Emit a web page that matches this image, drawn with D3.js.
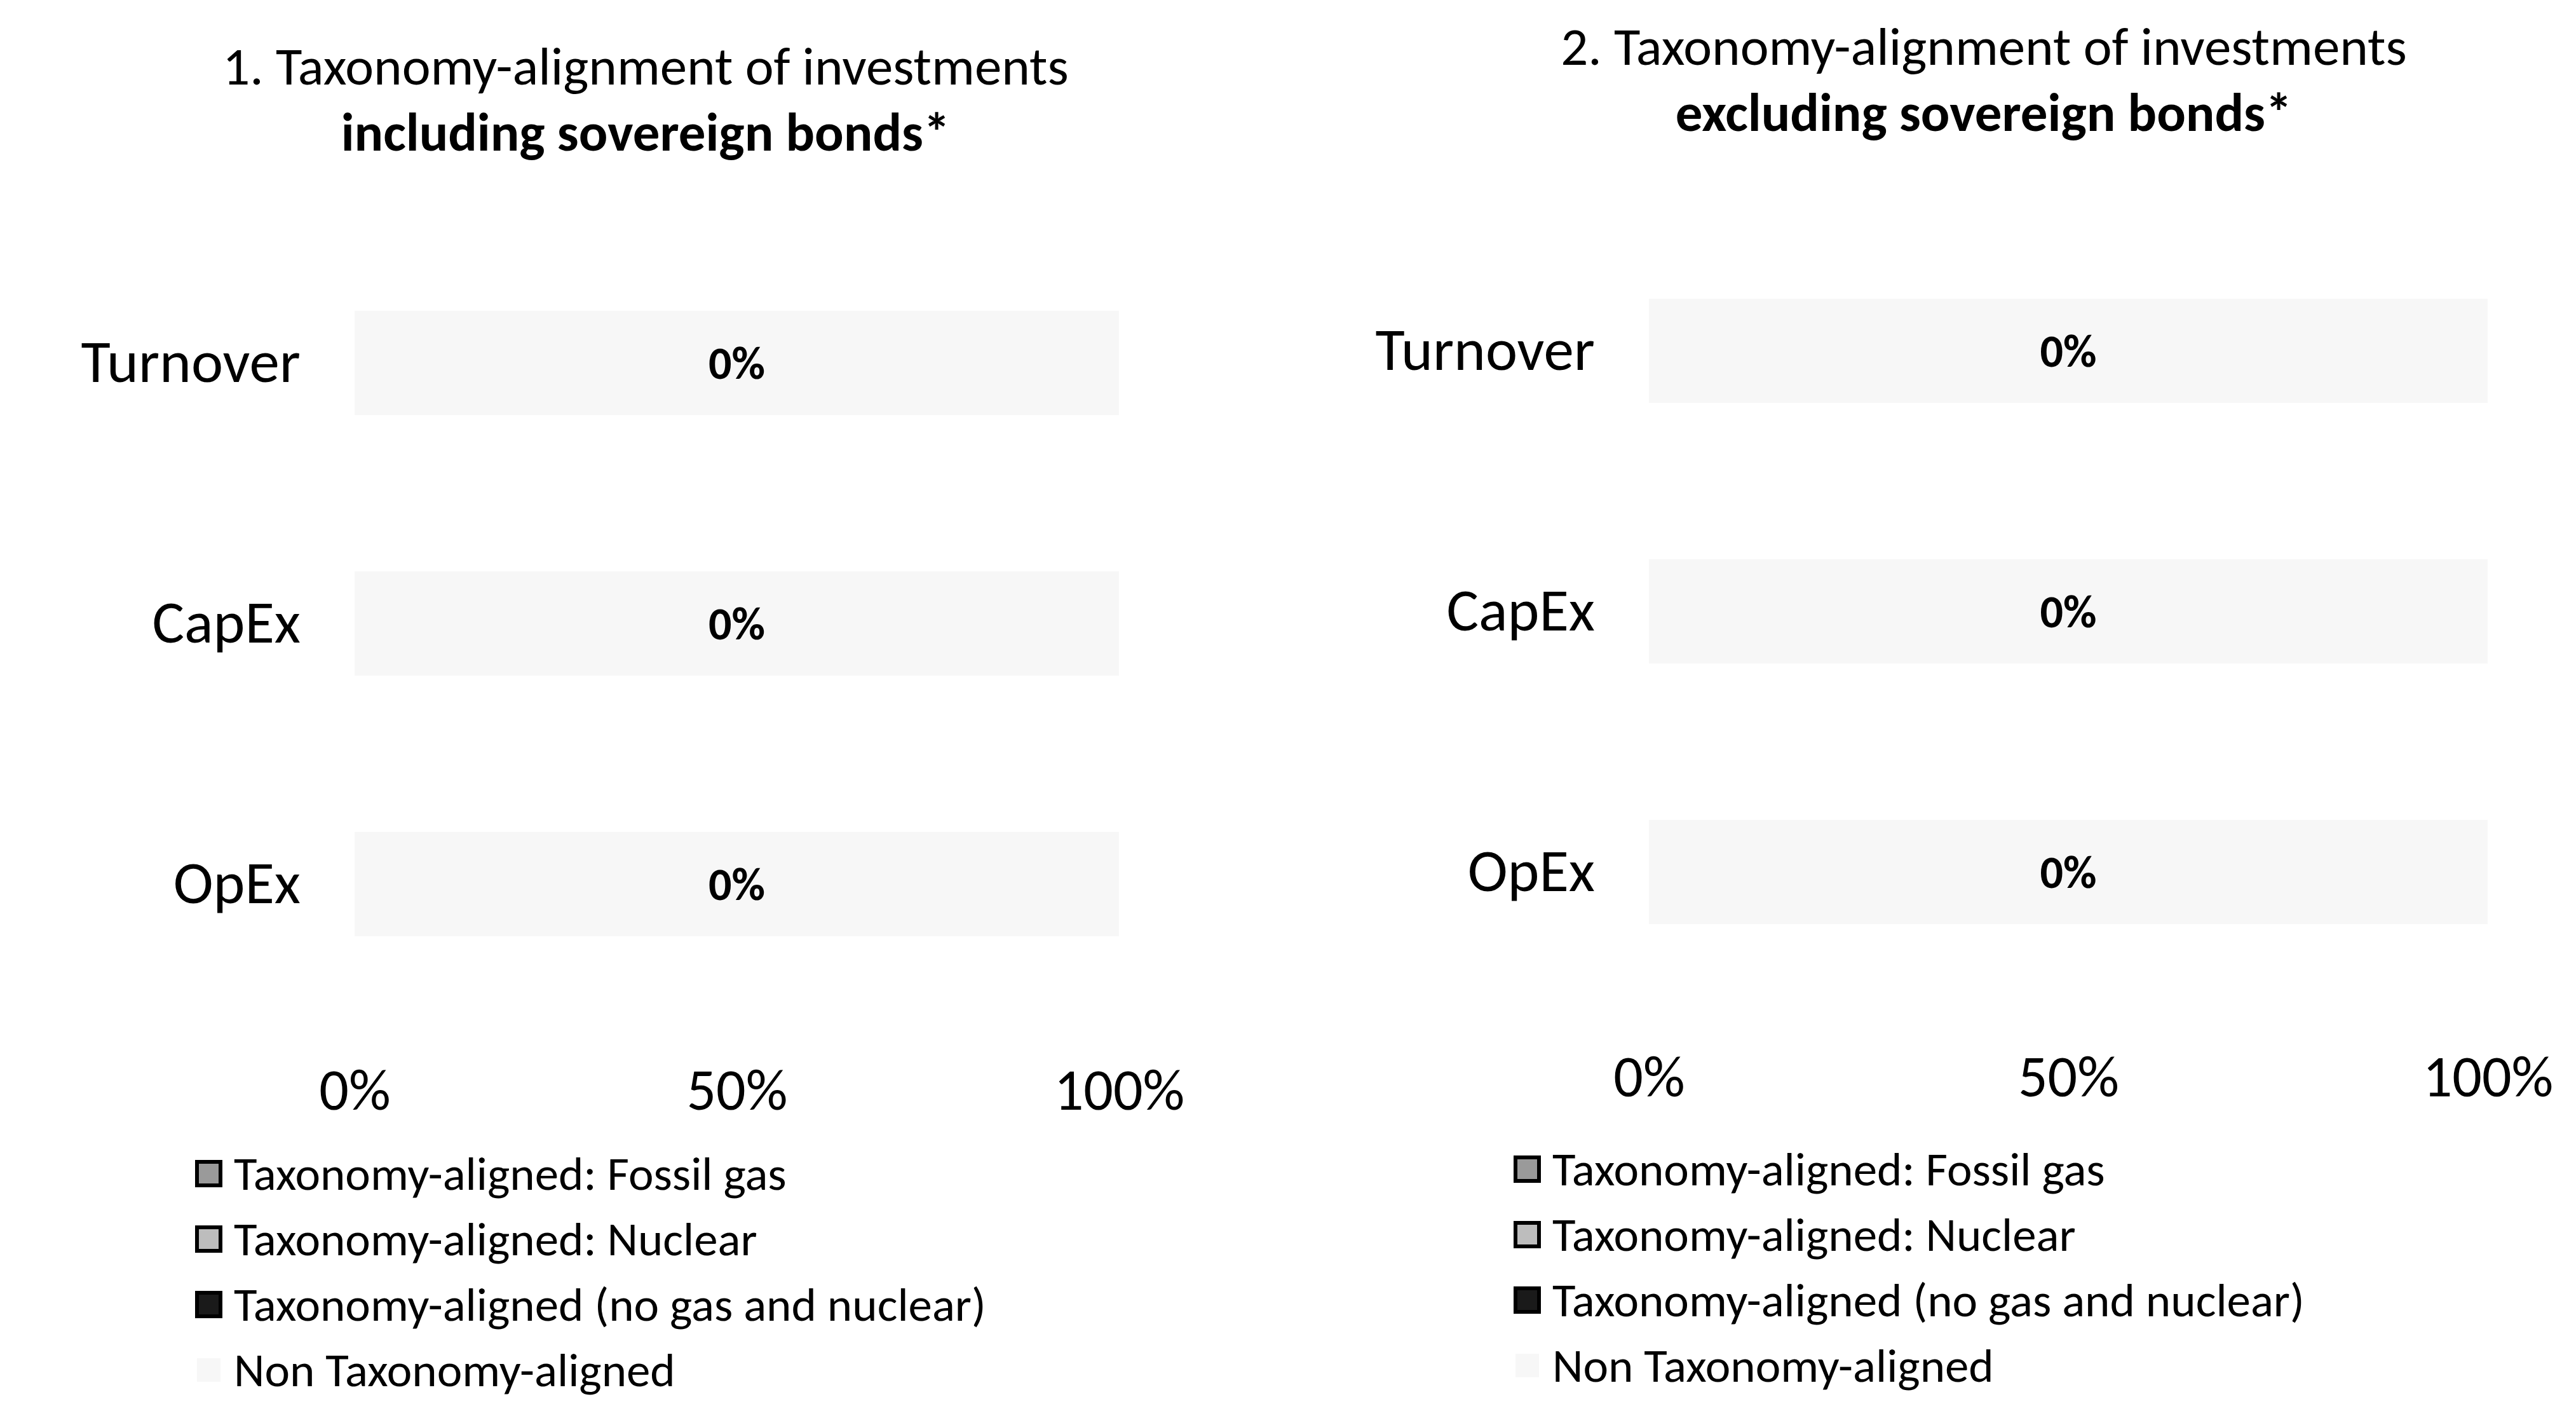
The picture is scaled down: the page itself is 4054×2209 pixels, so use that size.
<!DOCTYPE html>
<html>
<head>
<meta charset="utf-8">
<script src="https://cdn.jsdelivr.net/npm/d3@7"></script>
<style>
  body { margin: 0; background: #fff; }
  svg { display: block; font-family: Carlito, Calibri, Lato, sans-serif; }
  .title { font-size: 85px; text-anchor: middle; }
  .title.bold { font-weight: bold; }
  .cat text { font-size: 95px; fill: #000; }
  .ticks text { font-size: 92px; fill: #000; }
  .legend text { font-size: 75px; }
  .value { font-size: 72px; font-weight: bold; text-anchor: middle; }
</style>
</head>
<body>
<svg id="chart"></svg>
<script>
const WIDTH = 4054;
const HEIGHT = 2209;

const categories = ["Turnover", "CapEx", "OpEx"];
const seriesNames = [
  "Taxonomy-aligned: Fossil gas",
  "Taxonomy-aligned: Nuclear",
  "Taxonomy-aligned (no gas and nuclear)",
  "Non Taxonomy-aligned",
];
const tickValues = [0, 50, 100];

// 1. including sovereign bonds
const fossilGasIncl = [0, 0, 0];
const nuclearIncl = [0, 0, 0];
const alignedIncl = [0, 0, 0];
const nonAlignedIncl = [100, 100, 100];

// 2. excluding sovereign bonds
const fossilGasExcl = [0, 0, 0];
const nuclearExcl = [0, 0, 0];
const alignedExcl = [0, 0, 0];
const nonAlignedExcl = [100, 100, 100];

const colors = ["#9a9a9a", "#bdbdbd", "#1a1a1a", "#f7f7f7"];

const panels = [
  {
    title: ["1. Taxonomy-alignment of investments", "including sovereign bonds*"],
    titleX: 1016, titleY: 103,
    series: [fossilGasIncl, nuclearIncl, alignedIncl, nonAlignedIncl],
    x0: 558, x1: 1761, y0: 366, y1: 1596, axisY: 1714,
    legendX: 310, legendY: 1846,
  },
  {
    title: ["2. Taxonomy-alignment of investments", "excluding sovereign bonds*"],
    titleX: 3122, titleY: 72,
    series: [fossilGasExcl, nuclearExcl, alignedExcl, nonAlignedExcl],
    x0: 2595, x1: 3915, y0: 347, y1: 1577, axisY: 1693,
    legendX: 2385, legendY: 1839,
  },
];

const svg = d3.select("#chart").attr("width", WIDTH).attr("height", HEIGHT);
const pct = d3.format(".0%");

panels.forEach((p) => {
  const g = svg.append("g");

  g.selectAll(".title")
    .data(p.title)
    .join("text")
    .attr("class", (d, i) => (i ? "title bold" : "title"))
    .attr("x", p.titleX)
    .attr("y", (d, i) => p.titleY + i * 104)
    .attr("dy", "0.35em")
    .text((d) => d);

  const x = d3.scaleLinear().domain([0, 100]).range([p.x0, p.x1]);
  const y = d3.scaleBand().domain(categories).range([p.y0, p.y1])
    .paddingInner(0.6).paddingOuter(0.3);

  const rows = categories.map((c, i) => {
    const row = { category: c };
    seriesNames.forEach((s, j) => (row[s] = p.series[j][i]));
    return row;
  });
  const stacked = d3.stack().keys(seriesNames)(rows);

  g.append("g")
    .selectAll("g")
    .data(stacked)
    .join("g")
    .attr("fill", (d, i) => colors[i])
    .selectAll("rect")
    .data((d) => d)
    .join("rect")
    .attr("x", (d) => x(d[0]))
    .attr("width", (d) => x(d[1]) - x(d[0]))
    .attr("y", (d) => y(d.data.category))
    .attr("height", y.bandwidth());

  // share of taxonomy-aligned investments, labelled at the middle of each bar
  g.append("g")
    .selectAll("text")
    .data(rows)
    .join("text")
    .attr("class", "value")
    .attr("x", (d) => x(d3.sum(seriesNames, (s) => d[s]) / 2))
    .attr("y", (d) => y(d.category) + y.bandwidth() / 2)
    .attr("dy", "0.35em")
    .text((d) => pct((d[seriesNames[0]] + d[seriesNames[1]] + d[seriesNames[2]]) / 100));

  const yAxis = g.append("g")
    .attr("class", "cat")
    .attr("transform", `translate(${p.x0},0)`)
    .call(d3.axisLeft(y).tickSize(0).tickPadding(85));
  yAxis.attr("font-family", null).attr("font-size", null);
  yAxis.select(".domain").remove();

  const xAxis = g.append("g")
    .attr("class", "ticks")
    .attr("transform", `translate(0,${p.axisY})`)
    .call(d3.axisBottom(x).tickValues(tickValues).tickSize(0).tickPadding(0)
      .tickFormat((d) => d + "%"));
  xAxis.attr("font-family", null).attr("font-size", null);
  xAxis.select(".domain").remove();
  xAxis.selectAll("text").attr("dy", "0.35em");

  const legend = g.append("g")
    .attr("class", "legend")
    .selectAll("g")
    .data(seriesNames)
    .join("g")
    .attr("transform", (d, i) => `translate(${p.legendX},${p.legendY + i * 103})`);
  legend.append("rect")
    .attr("x", 0)
    .attr("y", -18)
    .attr("width", 37)
    .attr("height", 37)
    .attr("fill", (d, i) => colors[i])
    .attr("stroke", (d, i) => (i < 3 ? "#000" : "none"))
    .attr("stroke-width", 6);
  legend.append("text")
    .attr("x", 58)
    .attr("dy", "0.35em")
    .text((d) => d);
});
</script>
</body>
</html>
